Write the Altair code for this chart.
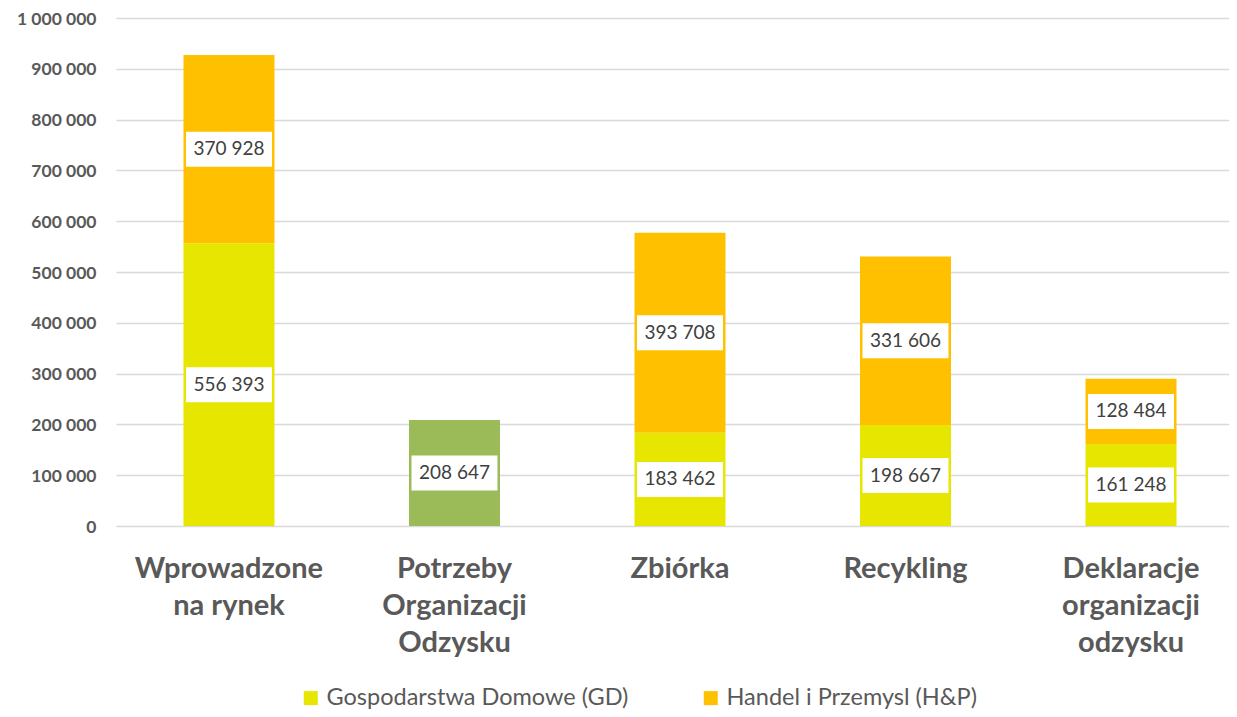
import altair as alt
import pandas as pd

categories = ["Wprowadzone|na rynek", "Potrzeby|Organizacji|Odzysku", "Zbiórka",
              "Recykling", "Deklaracje|organizacji|odzysku"]
gd_values = [556393, None, 183462, 198667, 161248]
hp_values = [370928, None, 393708, 331606, 128484]
oo_values = [None, 208647, None, None, None]
series_names = ["Gospodarstwa Domowe (GD)", "Handel i Przemysl (H&P)", "Potrzeby Organizacji Odzysku"]
series_colors = ["#E6E600", "#FFC000", "#9BBB59"]
y_ticks = [0, 100000, 200000, 300000, 400000, 500000, 600000, 700000, 800000, 900000, 1000000]

rows = []
for i, c in enumerate(categories):
    for order, (name, vals) in enumerate(zip(series_names, [gd_values, hp_values, oo_values])):
        if vals[i] is not None:
            rows.append({"cat": c, "series": name, "order": order, "value": vals[i]})
df = pd.DataFrame(rows)

FMT = "replace(replace(format({v}, ','), ',', ' '), ',', ' ')"

base = alt.Chart(df).transform_stack(
    stack="value", groupby=["cat"], as_=["y0", "y1"],
    sort=[alt.SortField("order", order="ascending")]
).transform_calculate(
    mid="(datum.y0 + datum.y1) / 2",
    lbl=FMT.format(v="datum.value"),
)

xenc = alt.X(
    "cat:N", sort=categories, title=None,
    scale=alt.Scale(paddingInner=0.5965, paddingOuter=0.266, align=0.5625),
    axis=alt.Axis(labelExpr="split(datum.label, '|')", labelFont="Lato", labelFontSize=29,
                  labelFontWeight="bold", labelColor="#595959", labelLineHeight=37,
                  labelPadding=28, domain=False, ticks=False, grid=False, labelAngle=0,
                  labelLimit=300),
)
yscale = alt.Scale(domain=[0, 1000000], nice=False)

bars = base.mark_bar().encode(
    x=xenc,
    y=alt.Y("y0:Q", scale=yscale, title=None,
            axis=alt.Axis(values=y_ticks, labelExpr=FMT.format(v="datum.value"),
                          labelFont="Lato", labelFontSize=17.5, labelFontWeight="bold",
                          labelColor="#595959", labelPadding=20, domain=False, ticks=False,
                          labelOffset=1, gridColor="#D9D9D9", gridWidth=1.5)),
    y2="y1:Q",
    color=alt.Color("series:N", scale=alt.Scale(domain=series_names, range=series_colors),
                    legend=alt.Legend(values=series_names[:2], title=None, orient="none",
                                      legendX=183, legendY=668, direction="horizontal",
                                      symbolType="square", symbolSize=196, symbolStrokeWidth=0,
                                      labelFont="Lato", labelFontSize=23.5, labelColor="#595959",
                                      labelLimit=400, columnPadding=70, labelOffset=4,
                                      padding=0)),
)

box_path = "M-1,-0.407L1,-0.407L1,0.407L-1,0.407Z"
boxes = base.mark_point(shape=box_path, size=7396, filled=True, color="white",
                        opacity=1, strokeWidth=0).encode(
    x=alt.X("cat:N", sort=categories),
    y=alt.Y("mid:Q", scale=yscale),
)
texts = base.mark_text(font="Lato", fontSize=19, color="#404040", baseline="middle").encode(
    x=alt.X("cat:N", sort=categories),
    y=alt.Y("mid:Q", scale=yscale),
    text="lbl:N",
)

chart = alt.layer(bars, boxes, texts).properties(
    width=1113, height=508, autosize="none",
    padding={"left": 108, "top": 10, "right": 0, "bottom": 183},
).configure_view(stroke=None)

chart.save("out.html", embed_options={"renderer": "svg", "actions": False})
